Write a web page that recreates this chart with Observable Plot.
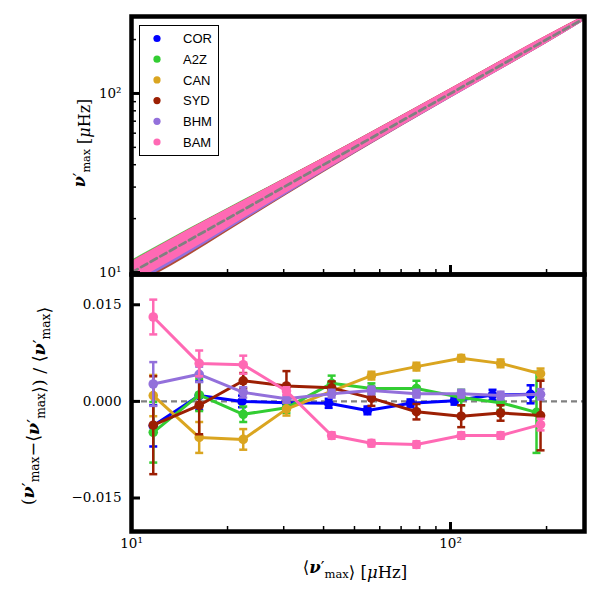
<!DOCTYPE html>
<html><head><meta charset="utf-8">
<script src="https://cdn.jsdelivr.net/npm/d3@7"></script>
<script src="https://cdn.jsdelivr.net/npm/@observablehq/plot@0.6"></script>
<style>
body{margin:0;background:#fff;}
#wrap{position:relative;width:600px;height:600px;overflow:hidden;background:#fff;}
#wrap svg{position:absolute;left:0;}
#wrap svg text{font-family:"DejaVu Serif";}
#wrap svg text.leg{font-family:"Liberation Sans";}
</style></head><body><div id="wrap"></div>
<script>
// ---- series ----
const series = ["COR", "A2Z", "CAN", "SYD", "BHM", "BAM"];
const colors = ["#0000ff", "#32cd32", "#daa520", "#9c1f03", "#9370db", "#ff69b4"];

// ---- top panel: envelope of the star cloud (ratio nu'max / <nu'max>) ----
const bandX = [10, 15, 20, 30, 50, 100, 200, 265];
const corLo = [0.88, 0.89, 0.90, 0.92, 0.94, 0.955, 0.96, 0.975];
const corHi = [1.12, 1.11, 1.10, 1.09, 1.07, 1.05, 1.04, 1.02];
const a2zLo = [0.87, 0.88, 0.89, 0.91, 0.93, 0.945, 0.955, 0.97];
const a2zHi = [1.17, 1.16, 1.14, 1.11, 1.08, 1.06, 1.045, 1.03];
const canLo = [0.87, 0.88, 0.89, 0.91, 0.93, 0.95, 0.955, 0.975];
const canHi = [1.13, 1.12, 1.11, 1.10, 1.07, 1.055, 1.045, 1.025];
const sydLo = [0.82, 0.82, 0.845, 0.88, 0.915, 0.94, 0.95, 0.97];
const sydHi = [1.15, 1.15, 1.13, 1.105, 1.08, 1.062, 1.05, 1.03];
const bhmLo = [0.84, 0.84, 0.86, 0.89, 0.92, 0.94, 0.952, 0.97];
const bhmHi = [1.08, 1.08, 1.07, 1.06, 1.05, 1.05, 1.04, 1.02];
const bamLo = [0.87, 0.87, 0.885, 0.905, 0.926, 0.942, 0.952, 0.97];
const bamHi = [1.15, 1.15, 1.13, 1.105, 1.08, 1.062, 1.05, 1.03];
const diagX = [10, 265];

// ---- bottom panel: binned relative differences ----
const binX = [11.7, 16.3, 22.4, 30.6, 42.4, 56.5, 78.2, 108, 143.5, 191.5];
const corX = [11.7, 16.3, 22.2, 30.6, 41.5, 54.9, 74.9, 102.9, 135.4, 178.2];
const a2zX = [11.7, 16.3, 22.4, 30.6, 42.4, 56.5, 78.2, 108, 143.5, 186];
const corY = [-0.0038, 0.0009, 0.0000, -0.0002, -0.0003, -0.0014, -0.0003, 0.0001, 0.0010, 0.0011];
const corE = [0.0032, 0.0022, 0.0009, 0.0007, 0.0007, 0.0006, 0.0006, 0.0006, 0.0008, 0.0014];
const a2zY = [-0.0048, 0.0010, -0.0020, -0.0010, 0.0028, 0.0020, 0.0020, 0.0006, -0.0002, -0.0017];
const a2zE = [0.0047, 0.0025, 0.0012, 0.0008, 0.0012, 0.0008, 0.0012, 0.0012, 0.0011, 0.0063];
const canY = [0.0009, -0.0056, -0.0059, -0.0012, 0.0016, 0.0040, 0.0054, 0.0067, 0.0059, 0.0043];
const canE = [0.0032, 0.0024, 0.0016, 0.0010, 0.0006, 0.0006, 0.0006, 0.0005, 0.0006, 0.0008];
const sydY = [-0.0037, -0.0006, 0.0032, 0.0024, 0.0021, 0.0005, -0.0016, -0.0023, -0.0018, -0.0022];
const sydE = [0.0076, 0.0045, 0.0012, 0.0023, 0.0010, 0.0012, 0.0012, 0.0017, 0.0012, 0.0054];
const bhmY = [0.0027, 0.0042, 0.0014, 0.0004, 0.0012, 0.0017, 0.0012, 0.0012, 0.0009, 0.0011];
const bhmE = [0.0034, 0.0012, 0.0008, 0.0006, 0.0006, 0.0006, 0.0006, 0.0006, 0.0006, 0.0008];
const bamY = [0.0131, 0.0059, 0.0057, 0.0016, -0.0053, -0.0065, -0.0067, -0.0053, -0.0053, -0.0036];
const bamE = [0.0027, 0.0020, 0.0014, 0.0006, 0.0005, 0.0005, 0.0005, 0.0005, 0.0005, 0.0009];

// ---- ticks ----
const logMajor = [10, 100];
const logMinor = [20, 30, 40, 50, 60, 70, 80, 90, 200];
const xMajorTick = [100];
const resTicks = [-0.015, 0, 0.015];
const zeroLine = [0];

// ---- assemble tables ----
const bandLo = [corLo, a2zLo, canLo, sydLo, bhmLo, bamLo];
const bandHi = [corHi, a2zHi, canHi, sydHi, bhmHi, bamHi];
const resX = [corX, a2zX, binX, binX, binX, binX];
const resY = [corY, a2zY, canY, sydY, bhmY, bamY];
const resE = [corE, a2zE, canE, sydE, bhmE, bamE];

const bands = series.map((s, i) => bandX.map((x, j) => ({series: s, x, lo: x * bandLo[i][j], hi: x * bandHi[i][j]})));
const rows = series.map((s, i) => resX[i].map((x, j) => ({series: s, x, y: resY[i][j], lo: resY[i][j] - resE[i][j], hi: resY[i][j] + resE[i][j]})));
const diag = diagX.map(v => ({x: v, y: v}));

const sup = {1: "\u00b9", 2: "\u00b2"};
const fmtPow = d => "10" + sup[Math.round(Math.log10(d))];
const cap = {draw(ctx, size) { const w = Math.sqrt(size / Math.PI); ctx.moveTo(-w, 0); ctx.lineTo(w, 0); }};

const FONT = "DejaVu Serif";
const wrap = document.getElementById("wrap");

// ---- top plot ----
const bandOpacity = [1, 0.8, 1, 0.8, 1, 1];
const topPlot = Plot.plot({
  width: 600, height: 280,
  marginLeft: 131, marginRight: 16, marginTop: 16, marginBottom: 6,
  style: {background: "transparent", overflow: "visible", fontFamily: FONT},
  x: {type: "log", domain: [10, 263]},
  y: {type: "log", domain: [9.75, 269]},
  marks: [
    ...series.map((s, i) => Plot.areaY(bands[i], {x: "x", y1: "lo", y2: "hi", fill: colors[i], fillOpacity: bandOpacity[i], curve: "monotone-x", clip: true})),
    Plot.line(diag, {x: "x", y: "y", stroke: "#808080", strokeWidth: 2.8, strokeDasharray: "7,4", clip: true}),
    Plot.axisY(logMajor, {anchor: "left", tickSize: -9, strokeWidth: 3, tickPadding: 19, tickFormat: fmtPow, fontSize: 13.5, fontFamily: FONT, label: null}),
    Plot.axisY(logMinor, {anchor: "left", tickSize: -5, strokeWidth: 1.5, fill: "none", label: null}),
    Plot.axisX(xMajorTick, {anchor: "bottom", tickSize: -9, strokeWidth: 3, fill: "none", label: null}),
    Plot.axisX(logMinor, {anchor: "bottom", tickSize: -5, strokeWidth: 1.5, fill: "none", label: null}),
    Plot.frame({stroke: "black", strokeWidth: 4.5})
  ]
});
topPlot.style.top = "0px";
wrap.appendChild(topPlot);

// ---- bottom plot ----
const resMarks = [];
series.forEach((s, i) => {
  resMarks.push(
    Plot.ruleX(rows[i], {x: "x", y1: "lo", y2: "hi", stroke: colors[i], strokeWidth: 2.5}),
    Plot.dot(rows[i], {x: "x", y: "lo", symbol: cap, r: 4, stroke: colors[i], strokeWidth: 2.5}),
    Plot.dot(rows[i], {x: "x", y: "hi", symbol: cap, r: 4, stroke: colors[i], strokeWidth: 2.5}),
    Plot.line(rows[i], {x: "x", y: "y", stroke: colors[i], strokeWidth: 3}),
    Plot.dot(rows[i], {x: "x", y: "y", r: 4.8, fill: colors[i]})
  );
});
const bottomPlot = Plot.plot({
  width: 600, height: 332,
  marginLeft: 131, marginRight: 16, marginTop: 6, marginBottom: 69,
  style: {background: "transparent", overflow: "visible", fontFamily: FONT},
  x: {type: "log", domain: [10, 263]},
  y: {domain: [-0.0202, 0.0197]},
  marks: [
    Plot.ruleY(zeroLine, {stroke: "#808080", strokeWidth: 2.2, strokeDasharray: "6,4"}),
    ...resMarks,
    Plot.axisY(resTicks, {anchor: "left", tickSize: -9, strokeWidth: 3, tickPadding: 19, tickFormat: d3.format(".3f"), fontSize: 13.5, fontFamily: FONT, label: null}),
    Plot.axisX(logMajor, {anchor: "bottom", tickSize: 0, tickPadding: 7, tickFormat: fmtPow, fontSize: 13.5, fontFamily: FONT, label: null}),
    Plot.axisX(xMajorTick, {anchor: "bottom", tickSize: -9, strokeWidth: 3, fill: "none", label: null}),
    Plot.axisX(logMinor, {anchor: "bottom", tickSize: -5, strokeWidth: 1.5, fill: "none", label: null}),
    Plot.frame({stroke: "black", strokeWidth: 4.5})
  ]
});
bottomPlot.style.top = "268px";
wrap.appendChild(bottomPlot);

// ---- overlay: axis titles and legend ----
const ov = d3.select(wrap).append("svg")
  .attr("width", 600).attr("height", 600)
  .style("top", "0px").style("pointer-events", "none")
  .style("font-family", FONT);

function nuPrime(t, size) {
  t.append("tspan").attr("font-style", "italic").attr("font-weight", "bold").text("\u03bd");
  t.append("tspan").text("\u2032");
  t.append("tspan").attr("font-size", size * 0.7).attr("dy", size * 0.3).text("max");
  t.append("tspan").attr("dy", -size * 0.3).text("");
}
function unit(t) {
  t.append("tspan").text(" [");
  t.append("tspan").attr("font-style", "italic").text("\u03bc");
  t.append("tspan").text("Hz]");
}
// top y label
{
  const fs = 16;
  const t = ov.append("text").attr("transform", "translate(85,143) rotate(-90)")
    .attr("text-anchor", "middle").attr("font-size", fs);
  nuPrime(t, fs); unit(t);
}
// bottom y label
{
  const fs = 17.5;
  const t = ov.append("text").attr("transform", "translate(34,406) rotate(-90)")
    .attr("text-anchor", "middle").attr("font-size", fs);
  t.append("tspan").text("(");
  nuPrime(t, fs);
  t.append("tspan").text("\u2212\u27e8");
  nuPrime(t, fs);
  t.append("tspan").text("\u27e9) / \u27e8");
  nuPrime(t, fs);
  t.append("tspan").text("\u27e9");
}
// x label
{
  const fs = 16.5;
  const t = ov.append("text").attr("x", 355).attr("y", 573)
    .attr("text-anchor", "middle").attr("font-size", fs);
  t.append("tspan").text("\u27e8");
  nuPrime(t, fs);
  t.append("tspan").text("\u27e9");
  unit(t);
}
// legend
{
  const g = ov.append("g");
  g.append("rect").attr("x", 139.5).attr("y", 25.5).attr("width", 79).attr("height", 130)
    .attr("fill", "white").attr("stroke", "black").attr("stroke-width", 1);
  series.forEach((s, i) => {
    const cy = 38.5 + i * 20.7;
    g.append("circle").attr("cx", 157).attr("cy", cy).attr("r", 3.6).attr("fill", colors[i]);
    g.append("text").attr("class", "leg").attr("x", 183).attr("y", cy + 4.6)
      .attr("font-size", 13).text(s);
  });
}
</script></body></html>
